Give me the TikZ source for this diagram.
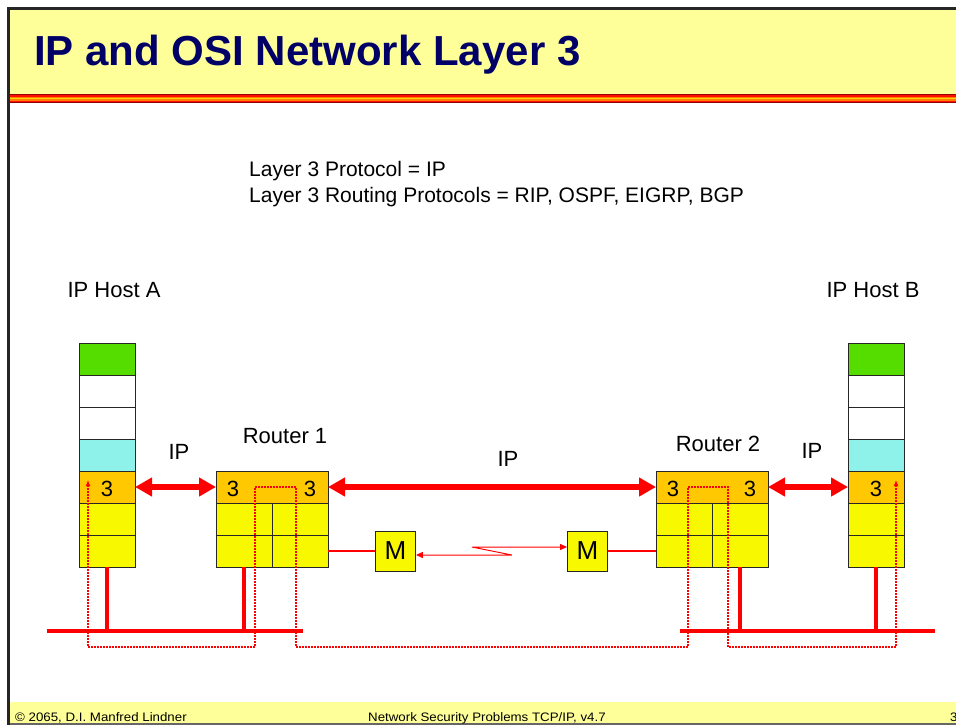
\documentclass[tikz,border=0pt]{standalone}
\usepackage{fontspec}
\setmainfont{Liberation Sans}
\newfontfamily\footfont[FakeStretch=1.08]{Liberation Sans}
\usetikzlibrary{arrows.meta,positioning}

\definecolor{titlebg}{RGB}{255,255,153}
\definecolor{titleblue}{RGB}{0,0,102}
\definecolor{apgreen}{RGB}{85,221,0}
\definecolor{tpcyan}{RGB}{142,242,234}
\definecolor{netorange}{RGB}{255,200,0}
\definecolor{linkyellow}{RGB}{248,248,0}

\tikzset{
  layer/.style={draw=black!85, line width=0.8pt, minimum width=56pt, minimum height=32pt, inner sep=0pt, outer sep=0pt},
  num/.style={inner sep=0pt, font=\fontsize{22}{24}\selectfont},
  lbl/.style={inner sep=0pt, anchor=base, font=\fontsize{22}{26}\selectfont},
  body/.style={inner sep=0pt, anchor=base west, font=\fontsize{21}{25}\selectfont},
  foot/.style={inner sep=0pt, anchor=base west, font=\footfont\fontsize{12.3}{14}\selectfont},
  modem/.style={draw=black!85, line width=0.8pt, fill=linkyellow, minimum size=40pt, inner sep=0pt, font=\fontsize{26}{28}\selectfont},
  iparrow/.style={red, line width=6pt, {Triangle[length=17pt,width=18pt]}-{Triangle[length=17pt,width=18pt]}},
  wire/.style={red, line width=1.2pt},
  bus/.style={red, line width=4pt},
  drop/.style={red, line width=3.5pt},
  ippath/.style={red, line width=1.5pt, dash pattern=on 1.5pt off 1.5pt, {Latex[length=6pt,width=5pt]}-{Latex[length=6pt,width=5pt]}}
}

\begin{document}
\begin{tikzpicture}[x=1pt,y=-1pt]
  \useasboundingbox (0,0) rectangle (956,725);
  \fill[white] (0,0) rectangle (956,725);

  % title bar
  \fill[titlebg] (8,8) rectangle (956,94);
  \foreach \col [count=\i] in {{red!60!black},{red!90!orange},orange,{yellow!70!orange},orange,{red!90!orange},{red!60!black}}
    \fill[\col] (8,92.7+1.3*\i) rectangle (956,94+1.3*\i);
  \node[anchor=base west, inner sep=0pt, text=titleblue, font=\bfseries\fontsize{42}{46}\selectfont] (title) at (34,66) {IP and OSI Network Layer 3};

  % footer
  \fill[titlebg] (8,702) rectangle (956,723);
  \draw[line width=2pt, black!60] (8,724) -- (956,724);
  \draw[line width=3pt, black!85] (8.5,725) -- (8.5,8.5) -- (956,8.5);
  \node[foot] (copy) at (15,721) {© 2065, D.I. Manfred Lindner};
  \node[foot] (course) at (368,721) {Network Security Problems TCP/IP, v4.7};
  \node[foot] (page) at (950,721) {3};

  \node[body] (proto) at (249,176) {Layer 3 Protocol = IP};
  \node[body] (routing) at (249,202) {Layer 3 Routing Protocols = RIP, OSPF, EIGRP, BGP};

  % hosts
  \foreach \col [count=\i] in {apgreen,white,white,tpcyan,netorange,linkyellow,linkyellow}{
    \node[layer, fill=\col] (ha\i) at (107,327+32*\i) {};
    \node[layer, fill=\col] (hb\i) at (876,327+32*\i) {};
  }
  \node[num] (ha3n) at (107,489) {3};
  \node[num] (hb3n) at (876,489) {3};
  \node[lbl] (hosta) at (114,297) {IP Host A};
  \node[lbl] (hostb) at (873,297) {IP Host B};

  % routers
  \node[layer, minimum width=112pt, fill=netorange] (r1n) at (272,487) {};
  \node[layer, fill=linkyellow, below right=0pt of r1n.south west] (r1c1) {};
  \node[layer, fill=linkyellow, right=0pt of r1c1] (r1c2) {};
  \node[layer, fill=linkyellow, below=0pt of r1c1] (r1c3) {};
  \node[layer, fill=linkyellow, right=0pt of r1c3] (r1c4) {};
  \node[num] (r1l) at (233,489) {3};
  \node[num] (r1r) at (310,489) {3};
  \node[lbl] (rt1) at (285,443) {Router 1};

  \node[layer, minimum width=112pt, fill=netorange] (r2n) at (712,487) {};
  \node[layer, fill=linkyellow, below right=0pt of r2n.south west] (r2c1) {};
  \node[layer, fill=linkyellow, right=0pt of r2c1] (r2c2) {};
  \node[layer, fill=linkyellow, below=0pt of r2c1] (r2c3) {};
  \node[layer, fill=linkyellow, right=0pt of r2c3] (r2c4) {};
  \node[num] (r2l) at (673,489) {3};
  \node[num] (r2r) at (750,489) {3};
  \node[lbl] (rt2) at (718,451) {Router 2};

  % modems
  \node[modem] (m1) at (395.5,551) {M};
  \node[modem] (m2) at (587.5,551) {M};
  \draw[wire] (r1c4.east) -- (m1.west);
  \draw[wire] (m2.east) -- (r2c3.west);
  \draw[red, line width=1pt, {Triangle[length=7pt,width=6pt]}-{Triangle[length=7pt,width=6pt]}]
    ([yshift=-4pt]m1.east) -- ++(96,0) -- ++(-40,-8) -- ([yshift=4pt]m2.west);

  % peer arrows
  \draw[iparrow] (ha5.east) -- (r1n.west);
  \draw[iparrow] (r1n.east) -- (r2n.west);
  \draw[iparrow] (r2n.east) -- (hb5.west);
  \node[lbl] (ip1) at (179,459) {IP};
  \node[lbl] (ip2) at (508,466) {IP};
  \node[lbl] (ip3) at (812,458) {IP};

  % ethernets
  \coordinate (busAw) at (47,631);
  \coordinate (busAe) at (303,631);
  \coordinate (busBw) at (680,631);
  \coordinate (busBe) at (935,631);
  \draw[drop] (ha7.south) -- (ha7.south |- busAw);
  \draw[drop] (r1c3.south) -- (r1c3.south |- busAw);
  \draw[drop] (r2c4.south) -- (r2c4.south |- busBw);
  \draw[drop] (hb7.south) -- (hb7.south |- busBw);
  \draw[bus] (busAw) -- (busAe);
  \draw[bus] (busBw) -- (busBe);

  % packet path
  \draw[ippath] (88,480) -- (88,647) -| (255,487) -| (296,647) -| (688,487) -| (728,647) -| (896,480);
\end{tikzpicture}
\end{document}
